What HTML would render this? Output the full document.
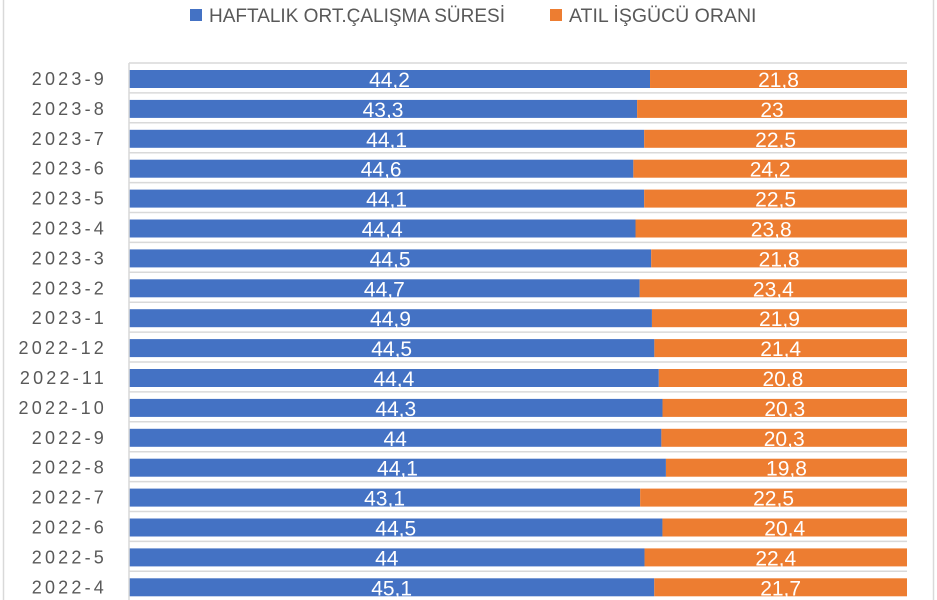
<!DOCTYPE html>
<html><head><meta charset="utf-8"><style>
html,body{margin:0;padding:0;background:#fff;}
svg{display:block;font-family:"Liberation Sans",sans-serif;}
</style></head><body>
<svg id="c" width="937" height="600" xmlns="http://www.w3.org/2000/svg">
<rect x="0" y="0" width="937" height="600" fill="#fff"/>
<line x1="3.5" y1="0" x2="3.5" y2="600" stroke="#d9d9d9" stroke-width="1.5"/>
<line x1="933.5" y1="0" x2="933.5" y2="600" stroke="#d9d9d9" stroke-width="1.5"/>
<rect x="190" y="9" width="12" height="12" fill="#4472c4"/>
<text x="209" y="22" font-size="19" fill="#595959">HAFTALIK ORT.ÇALIŞMA SÜRESİ</text>
<rect x="550" y="9" width="12" height="12" fill="#ed7d31"/>
<text x="569" y="22" font-size="19.5" fill="#595959">ATIL İŞGÜCÜ ORANI</text>
<g id="g"></g>
</svg>
<script>
var d=[["2023-9",44.2,21.8],["2023-8",43.3,23],["2023-7",44.1,22.5],["2023-6",44.6,24.2],["2023-5",44.1,22.5],["2023-4",44.4,23.8],["2023-3",44.5,21.8],["2023-2",44.7,23.4],["2023-1",44.9,21.9],["2022-12",44.5,21.4],["2022-11",44.4,20.8],["2022-10",44.3,20.3],["2022-9",44,20.3],["2022-8",44.1,19.8],["2022-7",43.1,22.5],["2022-6",44.5,20.4],["2022-5",44,22.4],["2022-4",45.1,21.7]];
var s="",x0=129,W=778,sp=29.9;
for(var i=0;i<d.length;i++){
 var gy=63+sp*i, by=70+sp*i, a=d[i][1], b=d[i][2], w=W*a/(a+b), cy=by+9;
 s+='<line x1="'+x0+'" x2="907" y1="'+gy+'" y2="'+gy+'" stroke="#d9d9d9" stroke-width="1.5"/>';
 s+='<rect x="'+x0+'" y="'+by+'" width="'+w+'" height="18" fill="#4472c4"/>';
 s+='<rect x="'+(x0+w)+'" y="'+by+'" width="'+(W-w)+'" height="18" fill="#ed7d31"/>';
 s+='<text x="'+(x0+w/2)+'" y="'+(cy+8)+'" font-size="21" fill="#fff" text-anchor="middle">'+String(a).replace(".",",")+'</text>';
 s+='<text x="'+(x0+w+(W-w)/2)+'" y="'+(cy+8)+'" font-size="21" fill="#fff" text-anchor="middle">'+String(b).replace(".",",")+'</text>';
 s+='<text x="107" y="'+(cy+6)+'" font-size="18" fill="#595959" text-anchor="end" letter-spacing="3.2">'+d[i][0]+'</text>';
}
s+='<line x1="'+x0+'" x2="'+x0+'" y1="63" y2="600" stroke="#d9d9d9" stroke-width="1.5"/>';
document.getElementById("g").innerHTML=s;
</script>
</body></html>
